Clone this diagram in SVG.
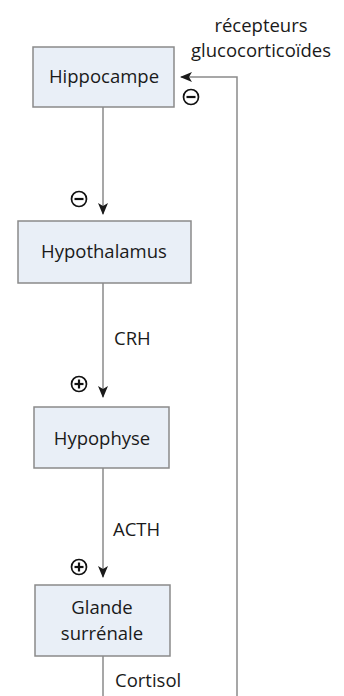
<svg xmlns="http://www.w3.org/2000/svg" width="344" height="696" viewBox="0 0 344 696">
<style>
.box{fill:#e9eff7;stroke:#8a8a8a;stroke-width:1.5}
.lbl{font-family:"Open Sans","Noto Sans",sans-serif;font-size:18.5px;fill:#1a1a1a;text-anchor:middle}
.el{font-family:"Open Sans","Noto Sans",sans-serif;font-size:18.5px;fill:#1a1a1a}
.ln{fill:none;stroke:#8a8a8a;stroke-width:1.5}
.sg{fill:none;stroke:#111;stroke-width:1.7}
.bar{stroke:#111;stroke-width:2.2}
</style>
<defs>
<marker id="ah" viewBox="0 0 12 12" refX="11" refY="6" markerWidth="12" markerHeight="12" markerUnits="userSpaceOnUse" orient="auto">
<path d="M0,1 L12,6 L0,11 L3,6 Z" fill="#1a1a1a"/>
</marker>
</defs>
<rect width="344" height="696" fill="#fff"/>
<g id="connectors">
<line class="ln" x1="103" y1="107" x2="103" y2="214" marker-end="url(#ah)"/>
<line class="ln" x1="103" y1="283" x2="103" y2="397" marker-end="url(#ah)"/>
<line class="ln" x1="103" y1="468" x2="103" y2="577" marker-end="url(#ah)"/>
<line class="ln" x1="103" y1="656" x2="103" y2="696"/>
<polyline class="ln" points="237,696 237,77 181,77" marker-end="url(#ah)"/>
</g>
<g id="signs">
<g id="minus1"><circle class="sg" cx="191" cy="97" r="7.5"/><line class="bar" x1="186.5" y1="97" x2="195.5" y2="97"/></g>
<g id="minus2"><circle class="sg" cx="79" cy="199" r="7.5"/><line class="bar" x1="74.5" y1="199" x2="83.5" y2="199"/></g>
<g id="plus1"><circle class="sg" cx="79" cy="384" r="7.5"/><line class="bar" x1="74.5" y1="384" x2="83.5" y2="384"/><line class="bar" x1="79" y1="379.5" x2="79" y2="388.5"/></g>
<g id="plus2"><circle class="sg" cx="79" cy="567" r="7.5"/><line class="bar" x1="74.5" y1="567" x2="83.5" y2="567"/><line class="bar" x1="79" y1="562.5" x2="79" y2="571.5"/></g>
</g>
<g id="edge-labels">
<text class="lbl" x="261" y="32">récepteurs</text>
<text class="lbl" x="261" y="57">glucocorticoïdes</text>
<text class="el" x="114" y="345">CRH</text>
<text class="el" x="113" y="536">ACTH</text>
<text class="el" x="115" y="687">Cortisol</text>
</g>
<g id="hippocampe"><rect class="box" x="33" y="47" width="141" height="60"/><text class="lbl" x="104" y="83">Hippocampe</text></g>
<g id="hypothalamus"><rect class="box" x="18" y="221" width="173" height="62"/><text class="lbl" x="104" y="258">Hypothalamus</text></g>
<g id="hypophyse"><rect class="box" x="34" y="407" width="135" height="61"/><text class="lbl" x="102" y="445">Hypophyse</text></g>
<g id="glande"><rect class="box" x="35" y="585" width="135" height="71"/><text class="lbl" x="102" y="614">Glande</text><text class="lbl" x="102" y="640">surrénale</text></g>
</svg>
